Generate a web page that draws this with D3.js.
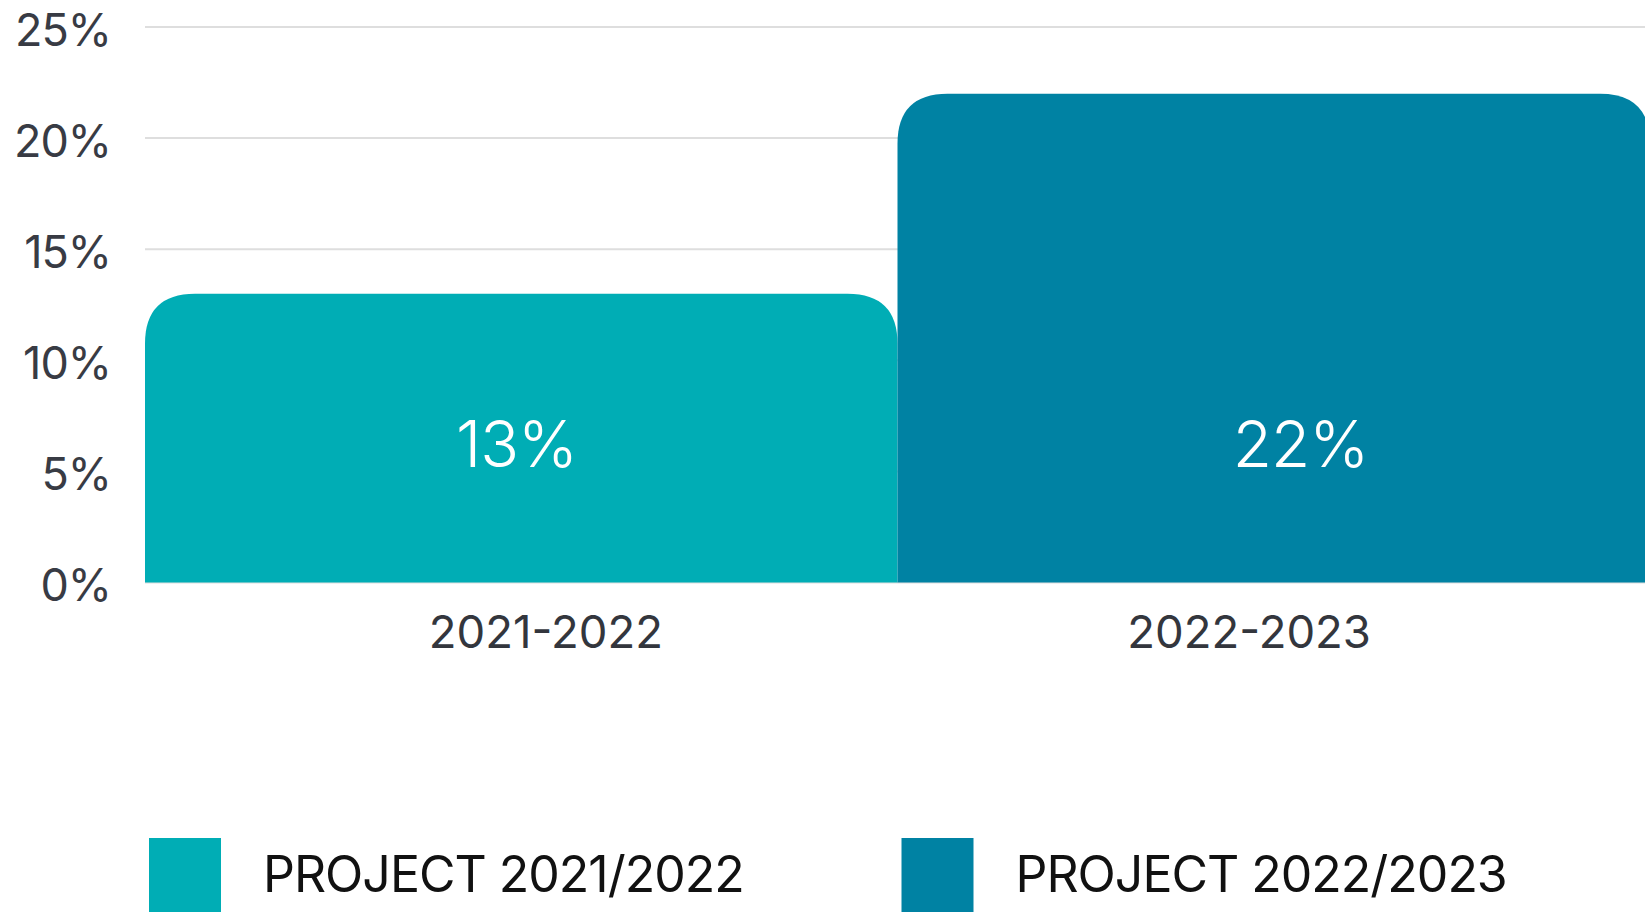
<!DOCTYPE html>
<html lang="en">
<head>
  <meta charset="UTF-8"/>
  <title>Project comparison</title>
  <script src="https://d3js.org/d3.v7.min.js"></script>
  <style>
    body { margin: 0; background: #fff; overflow: hidden; }
    text { font-family: Inter, "Noto Sans", sans-serif; }
  </style>
</head>
<body>
<script>
  var categories = ["2021-2022", "2022-2023"];
  var values = [13, 22];
  var seriesNames = ["PROJECT 2021/2022", "PROJECT 2022/2023"];
  var colors = ["#00adb5", "#0082a3"];
  var yTicks = [0, 5, 10, 15, 20, 25];

  var w = 1645;
  var h = 912;
  var plotLeft = 145, plotRight = 1650, plotTop = 27, plotBottom = 582.5;
  var radius = 50;

  var svg = d3.select("body")
          .append("svg")
          .attr("width", w)
          .attr("height", h);

  var xScale = d3.scaleBand()
          .domain(categories)
          .range([plotLeft, plotRight])
          .padding(0);

  // labels under / inside the bars sit a little off the band centres
  var xLabel = d3.scalePoint()
          .domain(categories)
          .range([plotLeft, plotRight])
          .padding(0.57);
  var xValue = d3.scalePoint()
          .domain(categories)
          .range([plotLeft, plotRight])
          .padding(0.46);

  var yScale = d3.scaleLinear()
          .domain([0, 25])
          .range([plotBottom, plotTop]);

  // grid lines
  svg.append("g")
          .selectAll("line")
          .data(yTicks)
          .enter()
          .append("line")
          .attr("x1", plotLeft)
          .attr("x2", w)
          .attr("y1", function(d) { return yScale(d); })
          .attr("y2", function(d) { return yScale(d); })
          .attr("stroke", "#dedede")
          .attr("stroke-width", 2);

  // y axis labels
  var yAxis = d3.axisLeft(yScale)
          .tickValues(yTicks)
          .tickFormat(function(d) { return d + "%"; })
          .tickSize(0)
          .tickPadding(34);

  var gy = svg.append("g")
          .attr("transform", "translate(" + plotLeft + ",0)")
          .call(yAxis);
  gy.select(".domain").remove();
  gy.selectAll("text")
          .attr("fill", "#383b44")
          .attr("dy", "0.4em")
          .style("font-size", "45px")
          .style("letter-spacing", "-1px")
          .style("font-family", "Inter, sans-serif");

  function topRounded(x, y, bw, bh, r) {
    return "M" + x + "," + (y + bh) +
            "V" + (y + r) +
            "Q" + x + "," + y + " " + (x + r) + "," + y +
            "H" + (x + bw - r) +
            "Q" + (x + bw) + "," + y + " " + (x + bw) + "," + (y + r) +
            "V" + (y + bh) + "Z";
  }

  // bars
  svg.selectAll("path.bar")
          .data(values)
          .enter()
          .append("path")
          .attr("class", "bar")
          .attr("d", function(d, i) {
            var x = xScale(categories[i]);
            var y = yScale(d);
            return topRounded(x, y, xScale.bandwidth(), yScale(0) - y, radius);
          })
          .attr("fill", function(d, i) { return colors[i]; });

  // value labels
  svg.selectAll("text.value")
          .data(values)
          .enter()
          .append("text")
          .attr("class", "value")
          .attr("x", function(d, i) { return xValue(categories[i]); })
          .attr("dx", 11)
          .attr("y", yScale(0) - 116)
          .attr("text-anchor", "middle")
          .attr("fill", "#fff")
          .style("font-size", "64px")
          .style("font-weight", 300)
          .style("letter-spacing", "-1px")
          .text(function(d) { return d + "%"; });

  // category labels
  svg.selectAll("text.cat")
          .data(categories)
          .enter()
          .append("text")
          .attr("class", "cat")
          .attr("x", function(d) { return xLabel(d); })
          .attr("y", 648)
          .attr("text-anchor", "middle")
          .attr("fill", "#33363d")
          .style("font-size", "45.5px")
          .text(function(d) { return d; });

  // legend
  var legend = svg.selectAll("g.legend")
          .data(seriesNames)
          .enter()
          .append("g")
          .attr("class", "legend")
          .attr("transform", function(d, i) {
            return "translate(" + (xScale(categories[i]) + 4) + ",838)";
          });

  legend.append("rect")
          .attr("width", 72)
          .attr("height", 76)
          .attr("fill", function(d, i) { return colors[i]; });

  legend.append("text")
          .attr("x", 114)
          .attr("y", 54)
          .attr("fill", "#111")
          .style("font-size", "50px")
          .style("letter-spacing", "-1px")
          .text(function(d) { return d; });
</script>
</body>
</html>
